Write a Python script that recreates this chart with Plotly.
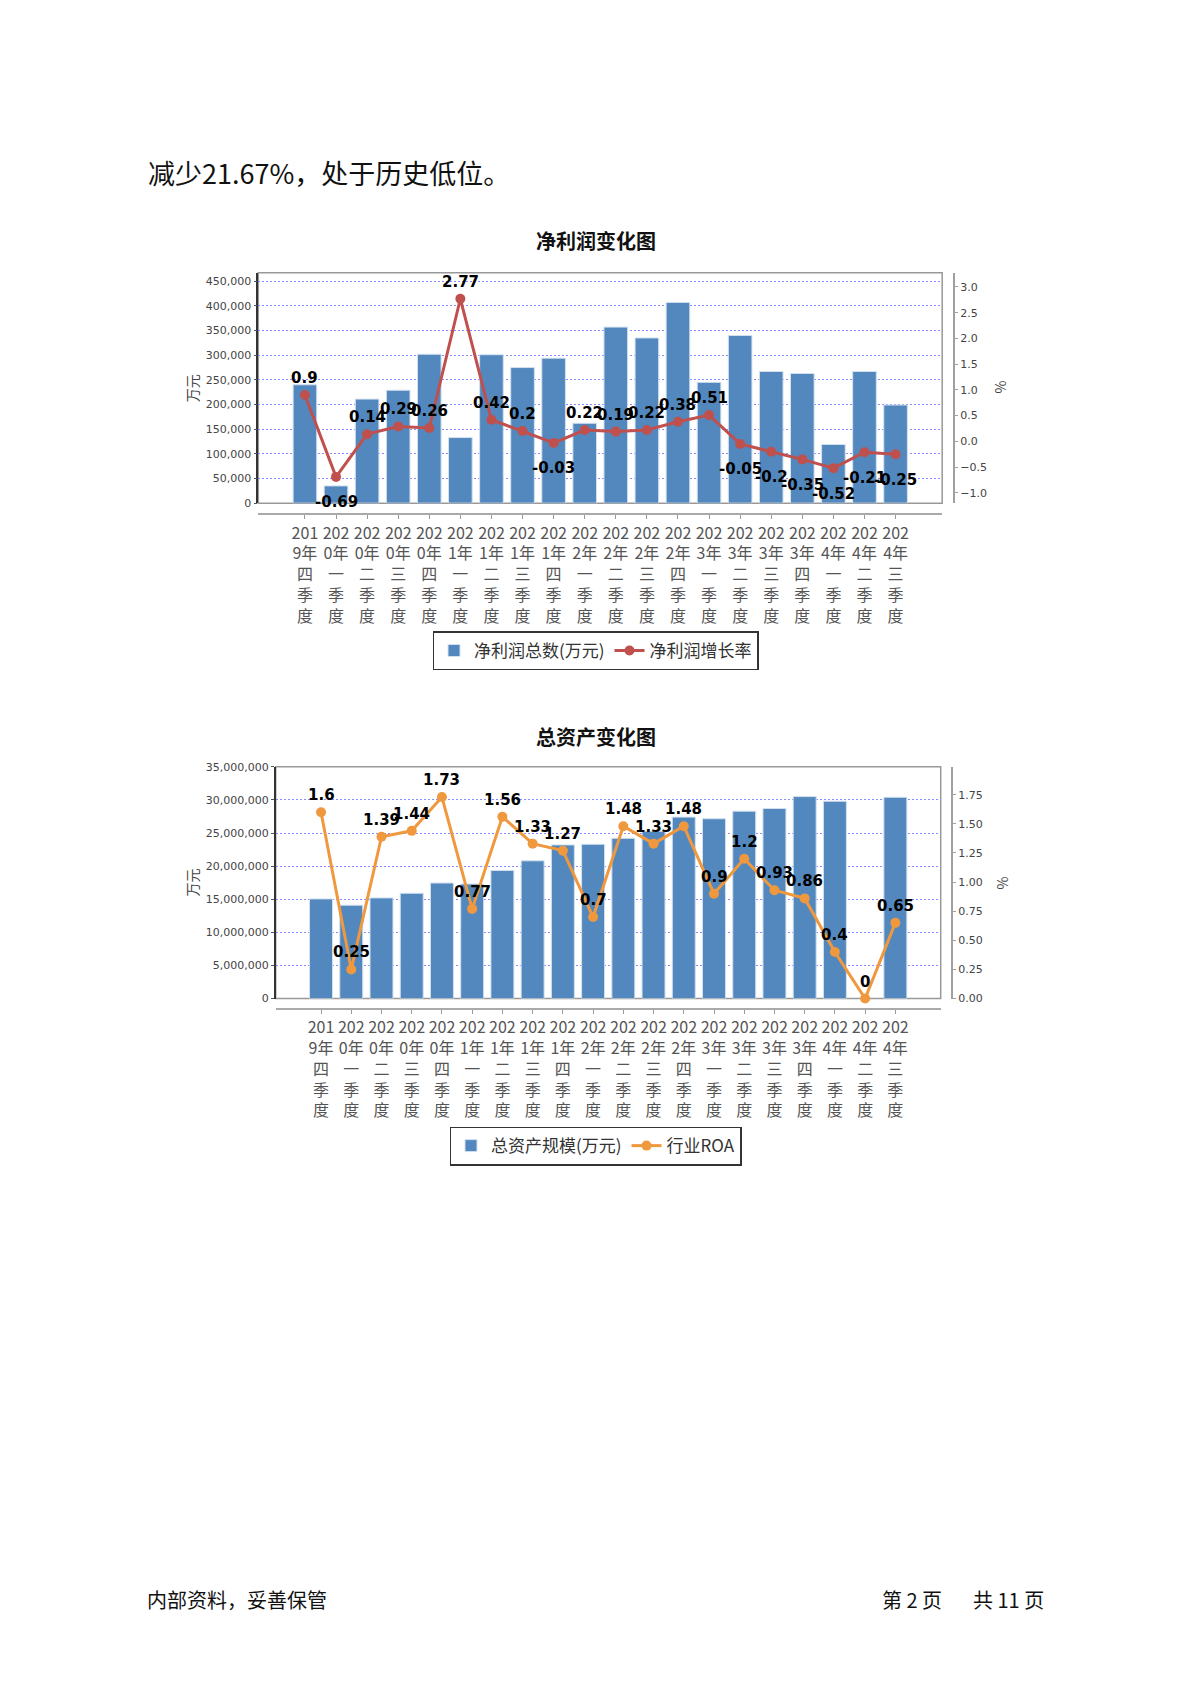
import plotly.graph_objects as go

# page body keeps an 8px default margin, so the figure is drawn 8px in from each edge
PAGE_W, PAGE_H = 1191, 1684
OFF = 8
W, H = PAGE_W - 2 * OFF, PAGE_H - 2 * OFF

# ---------------- data ----------------
quarters = ["2019年四季度", "2020年一季度", "2020年二季度", "2020年三季度", "2020年四季度",
            "2021年一季度", "2021年二季度", "2021年三季度", "2021年四季度",
            "2022年一季度", "2022年二季度", "2022年三季度", "2022年四季度",
            "2023年一季度", "2023年二季度", "2023年三季度", "2023年四季度",
            "2024年一季度", "2024年二季度", "2024年三季度"]

profit_total = [240000, 35000, 211000, 229000, 302000, 133000, 301000, 275000, 294000, 162000,
                357000, 335000, 407000, 245000, 340000, 267000, 263000, 119000, 267000, 199000]
profit_growth = [0.9, -0.69, 0.14, 0.29, 0.26, 2.77, 0.42, 0.2, -0.03, 0.22,
                 0.19, 0.22, 0.38, 0.51, -0.05, -0.2, -0.35, -0.52, -0.21, -0.25]

asset_total = [15050000, 14100000, 15200000, 15900000, 17450000, 17300000, 19350000, 20800000,
               23200000, 23300000, 24200000, 25250000, 27400000, 27150000, 28300000, 28700000,
               30500000, 29800000, None, 30400000]
industry_roa = [1.6, 0.25, 1.39, 1.44, 1.73, 0.77, 1.56, 1.33, 1.27, 0.7,
                1.48, 1.33, 1.48, 0.9, 1.2, 0.93, 0.86, 0.4, 0, 0.65]

chart1_title = "净利润变化图"
chart2_title = "总资产变化图"
bar1_name = "净利润总数(万元)"
line1_name = "净利润增长率"
bar2_name = "总资产规模(万元)"
line2_name = "行业ROA"
intro_text = "减少21.67%，处于历史低位。"
footer_left = "内部资料，妥善保管"
footer_page = "第 2 页"
footer_total = "共 11 页"

# ---------------- helpers ----------------
def fx(px):
    return (px - OFF) / W

def fy(px):
    return 1 - (px - OFF) / H

def wrap_label(s):
    return "<br>".join([s[0:3], s[3:5], s[5], s[6], s[7]])

tick_text = [wrap_label(q) for q in quarters]

CJK = "Noto Sans CJK SC"
LAT = "DejaVu Sans"
BAR_COLOR = "#5288be"
RED = "#c0504d"
ORANGE = "#f0983e"
GRID = "#8a8aff"

fig = go.Figure()

# chart 1
fig.add_trace(go.Bar(x=quarters, y=profit_total, name=bar1_name, xaxis="x", yaxis="y",
                     marker=dict(color=BAR_COLOR, line=dict(color="#d3e0ef", width=1)),
                     width=0.76, legend="legend"))
fig.add_trace(go.Scatter(x=quarters, y=profit_growth, name=line1_name, xaxis="x", yaxis="y2",
                         mode="lines+markers", line=dict(color=RED, width=3),
                         marker=dict(color=RED, size=10), legend="legend", cliponaxis=False))
# chart 2
fig.add_trace(go.Bar(x=quarters, y=asset_total, name=bar2_name, xaxis="x2", yaxis="y3",
                     marker=dict(color=BAR_COLOR, line=dict(color="#d3e0ef", width=1)),
                     width=0.76, legend="legend2"))
fig.add_trace(go.Scatter(x=quarters, y=industry_roa, name=line2_name, xaxis="x2", yaxis="y4",
                         mode="lines+markers", line=dict(color=ORANGE, width=3),
                         marker=dict(color=ORANGE, size=10), legend="legend2", cliponaxis=False))

def xaxis_cfg(left, right, pos):
    return dict(domain=[fx(left), fx(right)], anchor="free", position=fy(pos), type="category",
                range=[-1.5, 20.5], tickmode="array", tickvals=quarters, ticktext=tick_text,
                showline=True, linecolor="#aaaaaa", linewidth=2, ticks="outside", ticklen=4,
                tickcolor="#999999", tickfont=dict(family=CJK, size=16, color="#555555"),
                showgrid=False, zeroline=False, fixedrange=True)

def yleft_cfg(top, bottom, rng, dtick, xname):
    return dict(domain=[fy(bottom), fy(top)], anchor=xname, range=rng, dtick=dtick, tick0=0,
                tickformat=",d", showline=True, linecolor="#333333", linewidth=1.5,
                ticks="outside", ticklen=3, tickcolor="#555555",
                tickfont=dict(family=LAT, size=11, color="#444444"),
                showgrid=True, gridcolor=GRID, griddash="2px,2px", gridwidth=1,
                zeroline=False, fixedrange=True)

def yright_cfg(over, pos, rng, dtick, fmt):
    return dict(overlaying=over, side="right", anchor="free", position=fx(pos), range=rng,
                dtick=dtick, tick0=0, tickformat=fmt, showline=True, linecolor="#a0a0a0",
                linewidth=1.5, ticks="outside", ticklen=3, tickcolor="#a0a0a0",
                tickfont=dict(family=LAT, size=11, color="#444444"),
                showgrid=False, zeroline=False, fixedrange=True)

legend_common = dict(orientation="h", xanchor="center", yanchor="top", x=fx(595.5),
                     bordercolor="#333333", borderwidth=1.5, bgcolor="white",
                     font=dict(family=CJK, size=17, color="#333333"))

fig.update_layout(
    width=W, height=H, autosize=False,
    margin=dict(l=0, r=0, t=0, b=0),
    paper_bgcolor="white", plot_bgcolor="white",
    xaxis=xaxis_cfg(258.3, 942.2, 512.3),
    yaxis=yleft_cfg(268.7, 501.0, [0, 467400], 50000, "x"),
    yaxis2=yright_cfg("y", 954.3, [-1.2, 3.277], 0.5, ".1f"),
    xaxis2=xaxis_cfg(275.7, 940.7, 1010.8),
    yaxis3=yleft_cfg(766.7, 1000.3, [0, 35000000], 5000000, "x2"),
    yaxis4=yright_cfg("y3", 952.3, [0, 1.99], 0.25, ".2f"),
    legend=dict(legend_common, y=fy(630.3)),
    legend2=dict(legend_common, y=fy(1129.3)),
    showlegend=True,
)

# plot frames
for xr, yr in (("x", "y"), ("x2", "y3")):
    fig.add_shape(type="rect", xref=f"{xr} domain", yref=f"{yr} domain", x0=0, x1=1, y0=0, y1=1,
                  line=dict(color="#999999", width=1.5), layer="below")

ann = []
# titles
ann.append(dict(text=f"<b>{chart1_title}</b>", xref="paper", yref="paper", x=fx(595.5), y=fy(236.3),
                xanchor="center", yanchor="middle", showarrow=False,
                font=dict(family=CJK, size=20, color="#111111")))
ann.append(dict(text=f"<b>{chart2_title}</b>", xref="paper", yref="paper", x=fx(595.5), y=fy(735.7),
                xanchor="center", yanchor="middle", showarrow=False,
                font=dict(family=CJK, size=20, color="#111111")))
# axis titles
for xpx, ypx, t in ((191.7, 385.5, "万元"), (1000.0, 384.5, "%"),
                    (191.7, 883.5, "万元"), (1001.7, 883.7, "%")):
    ann.append(dict(text=t, xref="paper", yref="paper", x=fx(xpx), y=fy(ypx),
                    xanchor="center", yanchor="middle", showarrow=False, textangle=-90,
                    font=dict(family=CJK, size=14, color="#444444")))
# data labels
for q, v in zip(quarters, profit_growth):
    ann.append(dict(text=f"<b>{v:g}</b>", xref="x", yref="y2", x=q, y=v,
                    yshift=17 if v >= 0 else -25.5, showarrow=False,
                    xanchor="center", yanchor="middle",
                    font=dict(family=LAT, size=15, color="#000000")))
for q, v in zip(quarters, industry_roa):
    ann.append(dict(text=f"<b>{v:g}</b>", xref="x2", yref="y4", x=q, y=v,
                    yshift=17 if v >= 0 else -25.5, showarrow=False,
                    xanchor="center", yanchor="middle",
                    font=dict(family=LAT, size=15, color="#000000")))
# page text
ann.append(dict(text=intro_text, xref="paper", yref="paper", x=fx(146), y=fy(167.5),
                xanchor="left", yanchor="middle", showarrow=False,
                font=dict(family=CJK, size=27, color="#111111")))
ann.append(dict(text=footer_left, xref="paper", yref="paper", x=fx(145), y=fy(1606.4),
                xanchor="left", yanchor="middle", showarrow=False,
                font=dict(family=CJK, size=20, color="#111111")))
ann.append(dict(text=footer_page, xref="paper", yref="paper", x=fx(880), y=fy(1606.4),
                xanchor="left", yanchor="middle", showarrow=False,
                font=dict(family=CJK, size=20, color="#111111")))
ann.append(dict(text=footer_total, xref="paper", yref="paper", x=fx(1046), y=fy(1606.4),
                xanchor="right", yanchor="middle", showarrow=False,
                font=dict(family=CJK, size=20, color="#111111")))
fig.update_layout(annotations=ann)

fig.write_html("out.html")
